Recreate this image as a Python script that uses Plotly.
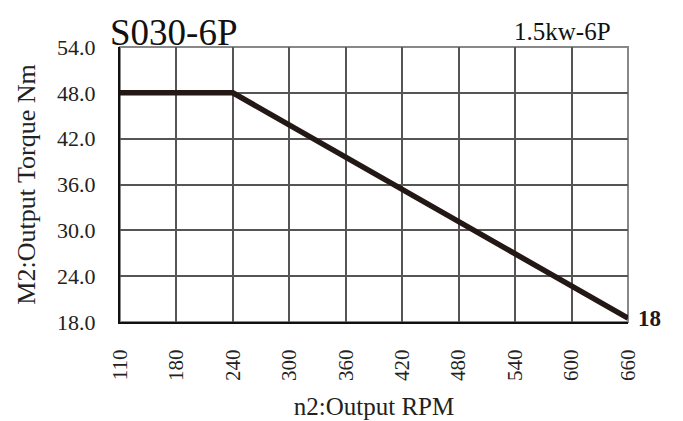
import plotly.graph_objects as go

# category ticks along the RPM axis (equally spaced in the original)
rpm_ticks = ["110", "180", "240", "300", "360", "420", "480", "540", "600", "660"]

# torque curve
rpm = ["110", "240", "660"]
torque = [48.0, 48.0, 18.5]

FONT = "Liberation Serif"

fig = go.Figure()
fig.add_trace(go.Scatter(
    x=rpm, y=torque, mode="lines",
    line=dict(color="#231815", width=5.5),
    showlegend=False,
))

fig.add_annotation(x=1.0, y=18.5, xref="paper", yref="y", text="<b>18</b>", showarrow=False,
                   xanchor="left", yanchor="middle", xshift=8,
                   font=dict(family=FONT, size=23, color="#231815"))
fig.add_annotation(x=0.0, y=1.0, xref="paper", yref="paper", text="S030-6P",
                   showarrow=False, xanchor="left", yanchor="bottom", xshift=-12, yshift=-8,
                   font=dict(family=FONT, size=37, color="#111"))
fig.add_annotation(x=0.97, y=1.0, xref="paper", yref="paper", text="1.5kw-6P",
                   showarrow=False, xanchor="right", yanchor="bottom", yshift=0,
                   font=dict(family=FONT, size=25, color="#111"))

fig.update_xaxes(
    type="category", categoryorder="array", categoryarray=rpm_ticks,
    tickvals=rpm_ticks, range=[0, 9], tickangle=-90, automargin=False,
    showgrid=True, gridcolor="#555", gridwidth=1.5,
    showline=True, linecolor="#111", linewidth=2, mirror=False,
    ticks="", ticklabelstandoff=17, tickfont=dict(family=FONT, size=21, color="#222"),
    title=dict(text="n2:Output RPM", font=dict(family=FONT, size=25, color="#222"), standoff=18),
    zeroline=False,
)
fig.update_yaxes(
    range=[18, 54], dtick=6, tickformat=".1f", automargin=False,
    showgrid=True, gridcolor="#555", gridwidth=1.5,
    showline=True, linecolor="#111", linewidth=2,
    ticks="", ticklabelstandoff=18, tickfont=dict(family=FONT, size=22, color="#222"),
    title=dict(text="M2:Output Torque Nm", font=dict(family=FONT, size=26, color="#222"), standoff=14),
    zeroline=False,
)

# gray frame on top and right
fig.add_shape(type="rect", xref="paper", yref="paper", x0=0, y0=0, x1=1, y1=1,
              line=dict(color="#888", width=2), layer="below")

# the page body adds an 8px offset, so the figure is a little smaller than the window
fig.update_layout(
    width=675, height=413,
    margin=dict(l=112, r=55, t=39, b=99),
    plot_bgcolor="white", paper_bgcolor="white",
)

fig.write_html("out.html")
